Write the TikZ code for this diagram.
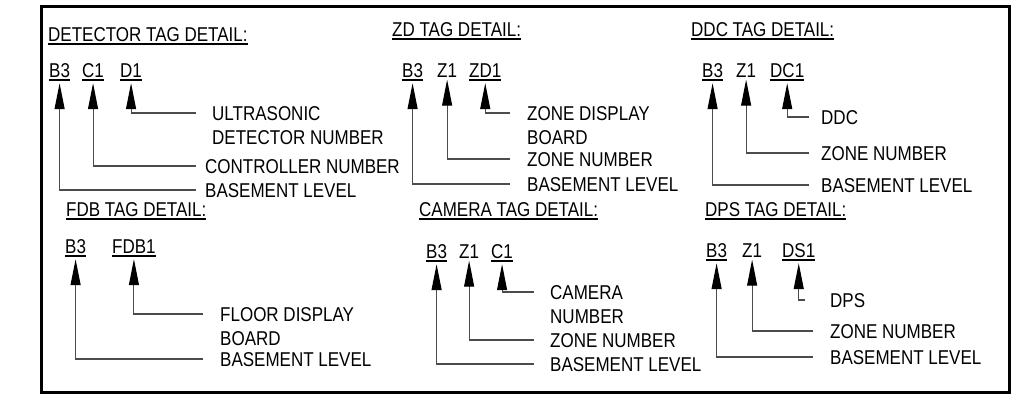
\documentclass[tikz,border=0pt]{standalone}
\usepackage{fontspec}
\setmainfont[FakeStretch=0.85]{Liberation Sans}
\usetikzlibrary{arrows.meta}

\newcommand{\tagul}[1]{\setbox0=\hbox{#1}\rlap{\rule[-3.5pt]{\wd0}{1.5pt}}\box0}

\tikzset{
  tagtext/.style={anchor=base west, inner xsep=0pt, inner ysep=2.5pt},
  titletext/.style={anchor=base west, inner sep=0pt},
  lbltext/.style={anchor=north west, inner sep=0pt, align=left},
  leader/.style={draw=black!70, line width=1.1pt, -{Triangle[length=26pt,width=10pt,black]}},
}

\begin{document}
\begin{tikzpicture}[x=1pt, y=-1pt, every node/.style={font=\fontsize{20}{24}\selectfont}]
  \useasboundingbox (0,0) rectangle (1018,405);
  % 0. frame
  \draw[line width=3pt] (41,6) rectangle (1009,392);

  % 1. detector tag
  \node[titletext] (t1) at (48,41) {\tagul{DETECTOR TAG DETAIL:}};
  \node[tagtext] (b1) at (49,77) {\tagul{B3}};
  \node[tagtext] (c1) at (82,77) {\tagul{C1}};
  \node[tagtext] (d1) at (120,77) {\tagul{D1}};
  \node[lbltext] (u1) at (212,106) {ULTRASONIC\\DETECTOR NUMBER};
  \node[lbltext] (n1) at (205,159) {CONTROLLER NUMBER};
  \node[lbltext] (l1) at (205,183) {BASEMENT LEVEL};
  \draw[leader] ([xshift=-16pt,yshift=-7pt]u1.north west) -| (d1.south);
  \draw[leader] ([xshift=-9pt,yshift=-7pt]n1.north west) -| (c1.south);
  \draw[leader] ([xshift=-9pt,yshift=-7pt]l1.north west) -| (b1.south);

  % 2. zd tag
  \node[titletext] (t2) at (392,36) {\tagul{ZD TAG DETAIL:}};
  \node[tagtext] (b2) at (402,77) {\tagul{B3}};
  \node[tagtext] (z2) at (437,77) {Z1};
  \node[tagtext] (zd2) at (469,77) {\tagul{ZD1}};
  \node[lbltext] (u2) at (527,106) {ZONE DISPLAY\\BOARD};
  \node[lbltext] (n2) at (527,152) {ZONE NUMBER};
  \node[lbltext] (l2) at (527,177) {BASEMENT LEVEL};
  \draw[leader] ([xshift=-17pt,yshift=-7pt]u2.north west) -| (zd2.south);
  \draw[leader] ([xshift=-17pt,yshift=-7pt]n2.north west) -| (z2.south);
  \draw[leader] ([xshift=-17pt,yshift=-7pt]l2.north west) -| (b2.south);

  % 3. ddc tag
  \node[titletext] (t3) at (691,36) {\tagul{DDC TAG DETAIL:}};
  \node[tagtext] (b3) at (702,77) {\tagul{B3}};
  \node[tagtext] (z3) at (736,77) {Z1};
  \node[tagtext] (dc3) at (770,77) {\tagul{DC1}};
  \node[lbltext] (u3) at (821,110) {DDC};
  \node[lbltext] (n3) at (821,146) {ZONE NUMBER};
  \node[lbltext] (l3) at (821,178) {BASEMENT LEVEL};
  \draw[leader] ([xshift=-12pt,yshift=-7pt]u3.north west) -| (dc3.south);
  \draw[leader] ([xshift=-12pt,yshift=-7pt]n3.north west) -| (z3.south);
  \draw[leader] ([xshift=-12pt,yshift=-7pt]l3.north west) -| (b3.south);

  % 4. fdb tag
  \node[titletext] (t4) at (66,216) {\tagul{FDB TAG DETAIL:}};
  \node[tagtext] (b4) at (65,253) {\tagul{B3}};
  \node[tagtext] (f4) at (112,253) {\tagul{FDB1}};
  \node[lbltext] (u4) at (220,307) {FLOOR DISPLAY\\BOARD};
  \node[lbltext] (l4) at (220,352) {BASEMENT LEVEL};
  \draw[leader] ([xshift=-17pt,yshift=-7pt]u4.north west) -| (f4.south);
  \draw[leader] ([xshift=-17pt,yshift=-7pt]l4.north west) -| (b4.south);

  % 5. camera tag
  \node[titletext] (t5) at (419,216) {\tagul{CAMERA TAG DETAIL:}};
  \node[tagtext] (b5) at (426,258) {\tagul{B3}};
  \node[tagtext] (z5) at (459,258) {Z1};
  \node[tagtext] (c5) at (491,258) {\tagul{C1}};
  \node[lbltext] (u5) at (550,285) {CAMERA\\NUMBER};
  \node[lbltext] (n5) at (550,333) {ZONE NUMBER};
  \node[lbltext] (l5) at (550,357) {BASEMENT LEVEL};
  \draw[leader] ([xshift=-16pt,yshift=-7pt]u5.north west) -| (c5.south);
  \draw[leader] ([xshift=-16pt,yshift=-7pt]n5.north west) -| (z5.south);
  \draw[leader] ([xshift=-16pt,yshift=-7pt]l5.north west) -| (b5.south);

  % 6. dps tag
  \node[titletext] (t6) at (705,216) {\tagul{DPS TAG DETAIL:}};
  \node[tagtext] (b6) at (706,257) {\tagul{B3}};
  \node[tagtext] (z6) at (742,257) {Z1};
  \node[tagtext] (s6) at (782,257) {\tagul{DS1}};
  \node[lbltext] (u6) at (830,293) {DPS};
  \node[lbltext] (n6) at (830,324) {ZONE NUMBER};
  \node[lbltext] (l6) at (830,350) {BASEMENT LEVEL};
  \draw[leader] ([xshift=-25pt,yshift=-7pt]u6.north west) -| (s6.south);
  \draw[leader] ([xshift=-17pt,yshift=-7pt]n6.north west) -| (z6.south);
  \draw[leader] ([xshift=-17pt,yshift=-7pt]l6.north west) -| (b6.south);
\end{tikzpicture}
\end{document}
